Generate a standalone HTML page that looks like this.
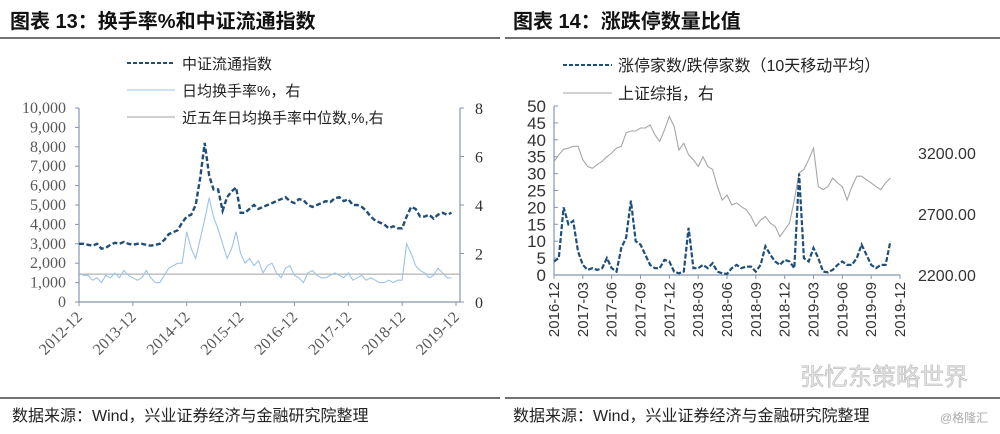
<!DOCTYPE html>
<html><head><meta charset="utf-8"><style>
html,body{margin:0;padding:0;background:#fff;}
svg{display:block;}
text{font-family:"Liberation Sans","Noto Sans CJK SC",sans-serif;}
.serif{font-family:"Liberation Serif","Noto Serif CJK SC",serif;}
</style></head><body>
<svg id="root" width="1000" height="434" viewBox="0 0 1000 434" xmlns="http://www.w3.org/2000/svg">
<rect width="1000" height="434" fill="#fff"/>
<text x="10" y="28" font-size="20" font-weight="bold" fill="#111">图表 13：换手率%和中证流通指数</text>
<line x1="0" y1="38" x2="500" y2="38" stroke="#444" stroke-width="1.5"/>
<text x="513" y="28" font-size="20" font-weight="bold" fill="#111">图表 14：涨跌停数量比值</text>
<line x1="505" y1="38" x2="1000" y2="38" stroke="#444" stroke-width="1.5"/>
<line x1="0" y1="398" x2="500" y2="398" stroke="#444" stroke-width="1.5"/>
<line x1="505" y1="398" x2="1000" y2="398" stroke="#444" stroke-width="1.5"/>
<text x="12" y="421" font-size="16" fill="#222">数据来源：Wind，兴业证券经济与金融研究院整理</text>
<text x="513" y="421" font-size="16" fill="#222">数据来源：Wind，兴业证券经济与金融研究院整理</text>
<text x="800" y="385" font-size="24" fill="#e4e4e4" stroke="#bbb" stroke-width="0.6">张忆东策略世界</text>
<text x="940" y="422" font-size="12" fill="#aaa">@格隆汇</text>

<line x1="127" y1="63" x2="175" y2="63" stroke="#1F4E79" stroke-width="2" stroke-dasharray="4,2"/>
<text x="182" y="69" font-size="15" fill="#222">中证流通指数</text>
<line x1="127" y1="90" x2="175" y2="90" stroke="#9DC3E6" stroke-width="1"/>
<text x="182" y="96" font-size="15" fill="#222">日均换手率%，右</text>
<line x1="127" y1="117" x2="175" y2="117" stroke="#A0A0A0" stroke-width="1"/>
<text x="182" y="123" font-size="15" fill="#222">近五年日均换手率中位数,%,右</text>

<line x1="563" y1="65" x2="612" y2="65" stroke="#1F4E79" stroke-width="2" stroke-dasharray="4,2"/>
<text x="618" y="71" font-size="16" fill="#222">涨停家数/跌停家数（10天移动平均）</text>
<line x1="563" y1="93" x2="612" y2="93" stroke="#A6A6A6" stroke-width="1"/>
<text x="618" y="99" font-size="16" fill="#222">上证综指，右</text>

<g id="c13"></g>
<g id="c14"></g>
</svg>
<script>
const c13Years = ["2012-12","2013-12","2014-12","2015-12","2016-12","2017-12","2018-12","2019-12"];
const c13LeftTicks = ["0","1,000","2,000","3,000","4,000","5,000","6,000","7,000","8,000","9,000","10,000"];
const c13RightTicks = ["0","2","4","6","8"];
const indexValues = [3000,3000,2950,2900,3000,2750,2800,2950,3050,3000,3100,3000,2950,3000,3000,2950,2900,2950,3000,3200,3500,3600,3700,4100,4400,4500,5000,6400,8200,6500,5800,5800,4700,5400,5700,5900,4600,4600,4800,5000,4800,4900,5000,5100,5200,5300,5400,5200,5100,5300,5250,5000,4900,5000,5100,5200,5150,5350,5400,5200,5300,5000,5000,4900,4700,4400,4200,4100,4000,3800,3900,3800,3800,4400,4900,4800,4400,4400,4500,4300,4500,4600,4500,4600];
const turnoverValues = [1.2,1.1,1.1,0.9,1.0,0.8,1.1,1.0,1.2,1.0,1.3,1.1,1.0,0.9,1.0,1.3,1.0,0.8,0.8,1.1,1.4,1.5,1.6,1.6,2.9,2.2,1.8,2.6,3.4,4.3,3.5,3.0,2.4,1.8,2.2,2.9,2.0,1.6,1.8,1.5,1.7,1.2,1.5,1.6,1.2,1.0,1.4,1.5,1.1,1.0,0.8,1.2,1.3,1.1,1.0,1.0,1.1,1.2,1.1,1.0,1.2,0.9,1.0,1.1,0.9,1.0,0.9,0.8,0.8,0.9,0.8,0.9,0.9,2.4,2.0,1.5,1.3,1.2,1.0,1.1,1.4,1.2,1.0,1.0];
const medianValue = [1.15];

const c14Months = ["2016-12","2017-03","2017-06","2017-09","2017-12","2018-03","2018-06","2018-09","2018-12","2019-03","2019-06","2019-09","2019-12"];
const c14LeftTicks = ["0","5","10","15","20","25","30","35","40","45","50"];
const c14RightTicks = ["2200.00","2700.00","3200.00"];
const ratioValues = [4,5,20,15,16,7,3,1.5,2,1.5,2,5,2,1,8,11,22,10,9,6,3,2,2,4.5,4,1,0.5,1,14,2,2,3,2,3.5,1,0.5,0.3,2,3,2,2.5,2.5,1,3,8.5,6,4,3,4.5,4,2,30,5,4,8,5,1,0.8,1.5,3,4,3,3,5,9,6,3,2,3,3,10];
const sseValues = [3130,3185,3230,3240,3255,3255,3145,3090,3075,3105,3130,3170,3200,3240,3255,3365,3380,3380,3405,3405,3430,3350,3295,3390,3500,3420,3225,3280,3185,3145,3090,3170,3090,3065,2925,2815,2855,2775,2790,2760,2735,2680,2600,2650,2680,2625,2600,2515,2570,2625,2815,3035,3065,3145,3240,2925,2900,2925,2995,2955,2925,2815,2925,3010,3010,2980,2955,2925,2900,2955,2995];

const NS='http://www.w3.org/2000/svg';
function mk(parent,tag,attrs){const e=document.createElementNS(NS,tag);for(const k in attrs)e.setAttribute(k,attrs[k]);parent.appendChild(e);return e;}

(function(){
const g=document.getElementById('c13');
const X0=79,X1=460,Y0=302,Y1=108;
const monthsTotal=84;
const xm=m=>X0+(m/monthsTotal)*(456-X0);
const yL=v=>Y0-(v/10000)*(Y0-Y1);
const yR=v=>Y0-(v/8)*(Y0-Y1);
const ax='#8496B0';
let a=mk(g,'line',{x1:X0,y1:Y1,x2:X0,y2:Y0,stroke:ax,'stroke-width':1.2});


a=mk(g,'line',{x1:X1,y1:Y1,x2:X1,y2:Y0,stroke:ax,'stroke-width':1.2});


a=mk(g,'line',{x1:X0,y1:Y0,x2:X1,y2:Y0,stroke:ax,'stroke-width':1.2});


c13LeftTicks.forEach((t,i)=>{const y=yL(i*1000);
 mk(g,'line',{x1:X0-4,y1:y,x2:X0,y2:y,stroke:ax});
 const tx=mk(g,'text',{x:X0-13,y:y+5,'font-size':16,fill:'#595959','text-anchor':'end',class:'serif'});tx.textContent=t;
 
 });
c13RightTicks.forEach((t,i)=>{const y=yR(i*2);
 mk(g,'line',{x1:X1,y1:y,x2:X1+4,y2:y,stroke:ax});
 const tx=mk(g,'text',{x:X1+15,y:y+6,'font-size':16,fill:'#333',class:'serif'});tx.textContent=t;
 
 });
c13Years.forEach((t,i)=>{const x=xm(i*12);
 mk(g,'line',{x1:x,y1:Y0,x2:x,y2:Y0+4,stroke:ax});
 const tx=mk(g,'text',{x:x+4,y:Y0+16,'font-size':16,fill:'#595959','text-anchor':'end',class:'serif',transform:`rotate(-45 ${x+4} ${Y0+16})`});tx.textContent=t;
 
 });
let p=mk(g,'line',{x1:X0,y1:yR(medianValue[0]),x2:X1,y2:yR(medianValue[0]),stroke:'#A0A0A0','stroke-width':1});


p=mk(g,'polyline',{points:turnoverValues.map((v,i)=>xm(i).toFixed(1)+','+yR(v).toFixed(1)).join(' '),fill:'none',stroke:'#9DC3E6','stroke-width':1.1});


p=mk(g,'polyline',{points:indexValues.map((v,i)=>xm(i).toFixed(1)+','+yL(v).toFixed(1)).join(' '),fill:'none',stroke:'#1F4E79','stroke-width':2.4,'stroke-dasharray':'5,2.5'});


})();

(function(){
const g=document.getElementById('c14');
const X0=554,X1=900,Y0=275,Y1=106;
const xh=k=>X0+(k/72)*(X1-X0);
const yL=v=>Y0-(v/50)*(Y0-Y1);
const yR=v=>Y0-((v-2200)/500)*61;
const ax='#8496B0';
let a=mk(g,'line',{x1:X0,y1:Y1,x2:X0,y2:Y0,stroke:ax,'stroke-width':1.2});


a=mk(g,'line',{x1:X0,y1:Y0,x2:X1,y2:Y0,stroke:ax,'stroke-width':1.2});


c14LeftTicks.forEach((t,i)=>{const y=yL(i*5);
 mk(g,'line',{x1:X0,y1:y,x2:X0+4,y2:y,stroke:ax});
 const tx=mk(g,'text',{x:X0-8,y:y+6,'font-size':17,fill:'#333','text-anchor':'end'});tx.textContent=t;
 
 });
c14RightTicks.forEach((t,i)=>{const y=yR(2200+i*500);
 const tx=mk(g,'text',{x:918,y:y+6,'font-size':16,fill:'#333'});tx.textContent=t;
 
 });
c14Months.forEach((t,i)=>{const x=X0+(i/12)*(X1-X0);
 mk(g,'line',{x1:x,y1:Y0,x2:x,y2:Y0+4,stroke:ax});
 const tx=mk(g,'text',{x:x+5,y:Y0+7,'font-size':15,fill:'#333','text-anchor':'end',transform:`rotate(-90 ${x+5} ${Y0+7})`});tx.textContent=t;
 
 });
let p=mk(g,'polyline',{points:sseValues.map((v,i)=>xh(i).toFixed(1)+','+yR(v).toFixed(1)).join(' '),fill:'none',stroke:'#A6A6A6','stroke-width':1.1});


p=mk(g,'polyline',{points:ratioValues.map((v,i)=>xh(i).toFixed(1)+','+yL(v).toFixed(1)).join(' '),fill:'none',stroke:'#1F4E79','stroke-width':2.2,'stroke-dasharray':'5,2'});


})();
</script>
</body></html>
